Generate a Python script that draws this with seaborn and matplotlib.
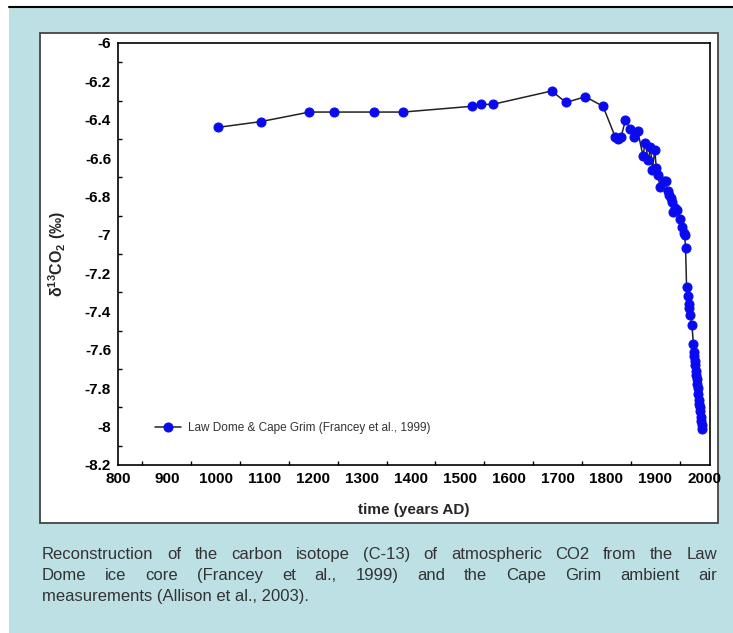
import numpy as np
import pandas as pd
import seaborn as sns
import matplotlib
matplotlib.use("Agg")
import matplotlib.pyplot as plt
from matplotlib.patches import Rectangle
from matplotlib.lines import Line2D
from matplotlib.ticker import MultipleLocator

# ---------------- data ----------------
years = [1004, 1092, 1192, 1243, 1324, 1384, 1524, 1544, 1567, 1688, 1717, 1757,
         1793, 1818, 1824, 1830, 1839, 1849, 1856, 1864, 1875, 1879, 1886, 1890,
         1894, 1899, 1902, 1905, 1910, 1917, 1921, 1925, 1929, 1932, 1935, 1937,
         1941, 1945, 1951, 1955, 1958, 1960, 1962, 1964, 1966, 1968, 1970, 1972,
         1975, 1978, 1979, 1980, 1981, 1982, 1983, 1984, 1985, 1986, 1987, 1988,
         1989, 1990, 1991, 1992, 1993, 1994, 1995, 1996]
d13c = [-6.44, -6.41, -6.36, -6.36, -6.36, -6.36, -6.33, -6.32, -6.32, -6.25, -6.31, -6.28,
        -6.33, -6.49, -6.50, -6.49, -6.40, -6.45, -6.49, -6.46, -6.59, -6.52, -6.61, -6.54,
        -6.66, -6.56, -6.65, -6.69, -6.75, -6.72, -6.72, -6.77, -6.79, -6.81, -6.83, -6.88,
        -6.86, -6.87, -6.92, -6.96, -6.99, -7.00, -7.07, -7.27, -7.32, -7.36, -7.38, -7.42,
        -7.47, -7.57, -7.61, -7.63, -7.66, -7.68, -7.71, -7.73, -7.75, -7.78, -7.80, -7.83,
        -7.86, -7.88, -7.90, -7.92, -7.95, -7.97, -7.99, -8.01]
series_label = "Law Dome & Cape Grim (Francey et al., 1999)"
x_label = "time (years AD)"
y_label = r"$\mathbf{\delta^{13}CO_2}$ (‰)"
caption_lines = [
    "Reconstruction of the carbon isotope (C-13) of atmospheric CO2 from the Law",
    "Dome ice core (Francey et al., 1999) and the Cape Grim ambient air",
    "measurements (Allison et al., 2003).",
]

df = pd.DataFrame({"year": years, "d13c": d13c})

# ---------------- figure ----------------
sns.set_theme(style="white")
plt.rcParams["font.family"] = ["Liberation Sans", "DejaVu Sans"]
plt.rcParams["mathtext.fontset"] = "custom"
plt.rcParams["mathtext.rm"] = "Liberation Sans"
plt.rcParams["mathtext.bf"] = "Liberation Sans:bold"
plt.rcParams["mathtext.it"] = "Liberation Sans:italic"

W, H = 733, 633
fig = plt.figure(figsize=(W / 100, H / 100), dpi=100, facecolor="white")

def fx(px):
    return px / W

def fy(py):
    return 1 - py / H

bg = "#bde0e4"
fig.patches.append(Rectangle((fx(9), 0), 1 - fx(9), fy(7), transform=fig.transFigure,
                             facecolor=bg, edgecolor="none", zorder=-3))
fig.lines.append(Line2D([fx(9), 1], [fy(7), fy(7)], transform=fig.transFigure,
                        color="black", lw=1.5, zorder=-2))
fig.patches.append(Rectangle((fx(40), fy(523)), fx(718) - fx(40), fy(33) - fy(523),
                             transform=fig.transFigure, facecolor="white",
                             edgecolor="#444444", lw=1.3, zorder=-2))

ax = fig.add_axes([fx(118), fy(465), fx(710) - fx(118), fy(43) - fy(465)])
ax.set_facecolor("none")
ax.set_zorder(2)

sns.lineplot(data=df, x="year", y="d13c", ax=ax, color="#222222", lw=1.1,
             marker="o", markersize=6.5, markerfacecolor="#0a0af0",
             markeredgecolor="#0a0af0", label=series_label, zorder=3)

ax.set_xlim(800, 2012)
ax.set_ylim(-8.2, -6.0)
ax.xaxis.set_major_locator(MultipleLocator(100))
ax.xaxis.set_minor_locator(MultipleLocator(50))
ax.yaxis.set_major_locator(MultipleLocator(0.2))
ax.yaxis.set_minor_locator(MultipleLocator(0.1))
ax.tick_params(which="both", direction="in", top=False, right=False,
               colors="black", labelsize=11)
ax.tick_params(which="major", length=5, width=1.0, pad=5)
ax.tick_params(which="minor", length=3, width=1.0, bottom=True, left=True)
yt = np.round(np.arange(-8.2, -5.99, 0.2), 1)
ax.set_yticks(yt)
ax.set_yticklabels([f"{v:g}" for v in yt])
for lab in ax.get_xticklabels() + ax.get_yticklabels():
    lab.set_fontweight("bold")
for s in ax.spines.values():
    s.set_color("black")
    s.set_linewidth(1.2)
    s.set_visible(True)

ax.set_xlabel(x_label, fontsize=11, fontweight="bold", labelpad=12)
ax.set_ylabel(y_label, fontsize=11.5, fontweight="bold", labelpad=12)

leg = ax.legend(loc="center left", bbox_to_anchor=(0.045, 0.088), frameon=False,
                fontsize=8.5, handlelength=2.2, handletextpad=0.6)
for t in leg.get_texts():
    t.set_color("#333333")

# ---------------- caption (justified) ----------------
cap_color = "#333333"
cap_size = 12
x0, x1 = fx(42), fx(717)
base_y = [559, 580, 601]
fig.canvas.draw()
renderer = fig.canvas.get_renderer()
for i, line in enumerate(caption_lines):
    yy = fy(base_y[i])
    if i == len(caption_lines) - 1:
        fig.text(x0, yy, line, fontsize=cap_size, color=cap_color, va="baseline", ha="left")
        continue
    words = line.split(" ")
    texts = [fig.text(0, yy, w, fontsize=cap_size, color=cap_color, va="baseline", ha="left")
             for w in words]
    widths = [t.get_window_extent(renderer).width / W for t in texts]
    gap = (x1 - x0 - sum(widths)) / (len(words) - 1)
    pos = x0
    for t, w in zip(texts, widths):
        t.set_x(pos)
        pos += w + gap

fig.savefig("out.png", dpi=100, facecolor=fig.get_facecolor())
